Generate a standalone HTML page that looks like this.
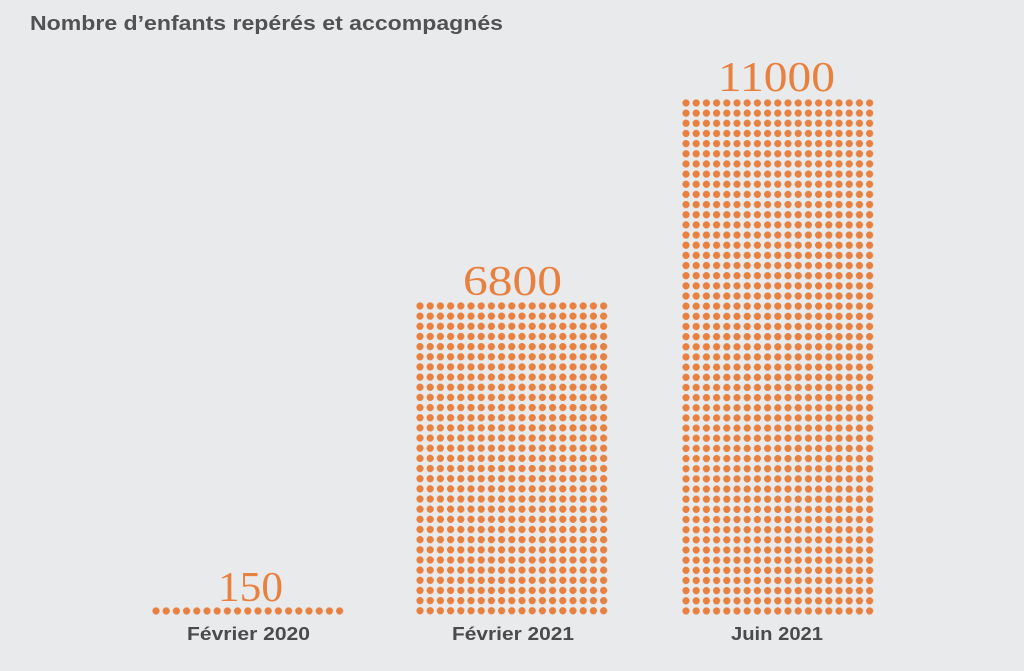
<!DOCTYPE html>
<html><head><meta charset="utf-8"><style>
html,body{margin:0;padding:0;background:#e9eaeb;}
svg{display:block;}
</style></head><body>
<svg width="1024" height="671" viewBox="0 0 1024 671" xmlns="http://www.w3.org/2000/svg">
<defs>
<pattern id="d" x="0" y="0" width="10.2" height="10.16" patternUnits="userSpaceOnUse">
<circle cx="5.1" cy="5.08" r="3.6" fill="#e8803f"/>
</pattern>
</defs>
<rect width="1024" height="671" fill="#e9eaeb"/>
<text x="30" y="30" font-family="Liberation Sans, sans-serif" font-weight="bold" font-size="20" fill="#505254" textLength="473" lengthAdjust="spacingAndGlyphs">Nombre d’enfants repérés et accompagnés</text>
<g transform="translate(150.9,605.9)"><rect width="193.8" height="10.16" fill="url(#d)"/></g>
<g transform="translate(414.9,300.9)"><rect width="193.8" height="315" fill="url(#d)"/></g>
<g transform="translate(680.9,97.9)"><rect width="193.8" height="518.2" fill="url(#d)"/></g>
<g font-family="Liberation Serif, serif" font-size="42" fill="#e8803f">
<text x="218" y="601" textLength="65" lengthAdjust="spacingAndGlyphs">150</text>
<text x="463" y="295" textLength="99" lengthAdjust="spacingAndGlyphs">6800</text>
<text x="718" y="91" textLength="117" lengthAdjust="spacingAndGlyphs">11000</text>
</g>
<g font-family="Liberation Sans, sans-serif" font-weight="bold" font-size="18" fill="#4a4b4d">
<text x="187" y="640" textLength="123" lengthAdjust="spacingAndGlyphs">Février 2020</text>
<text x="452" y="640" textLength="122" lengthAdjust="spacingAndGlyphs">Février 2021</text>
<text x="731" y="640" textLength="92" lengthAdjust="spacingAndGlyphs">Juin 2021</text>
</g>
</svg>
</body></html>
